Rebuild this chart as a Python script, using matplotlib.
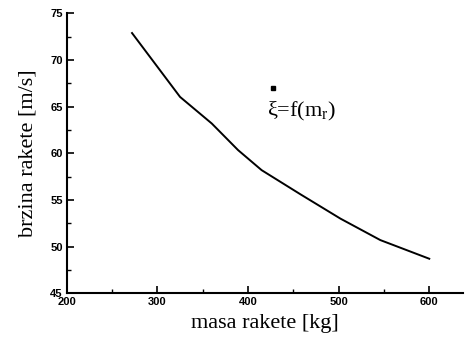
import matplotlib
matplotlib.use("Agg")
import matplotlib.pyplot as plt
from matplotlib.ticker import MultipleLocator

# values
masa = [272, 325, 360, 389, 415, 458, 480, 502, 546, 600]
brzina = [72.9, 66.05, 63.2, 60.35, 58.2, 55.6, 54.3, 53.0, 50.7, 48.7]
marker_point = (427.5, 67.0)
label_point = (421, 64.0)

plt.rcParams["mathtext.fontset"] = "custom"
plt.rcParams["mathtext.rm"] = "Liberation Serif"

fig = plt.figure(figsize=(4.67, 3.45), dpi=100)
ax = fig.add_axes([0.143, 0.15, 0.848, 0.811])

ax.plot(masa, brzina, color="black", lw=1.4)
ax.plot(*marker_point, marker="s", ms=3.5, color="black")
ax.text(*label_point, "ξ=f(m$_\\mathregular{r}$)", family="Liberation Serif",
        fontsize=16, ha="left", va="baseline")

ax.set_xlim(200, 637)
ax.set_ylim(45, 75)
ax.xaxis.set_major_locator(MultipleLocator(100))
ax.xaxis.set_minor_locator(MultipleLocator(50))
ax.yaxis.set_major_locator(MultipleLocator(5))
ax.yaxis.set_minor_locator(MultipleLocator(2.5))

for side in ("top", "right"):
    ax.spines[side].set_visible(False)
for side in ("left", "bottom"):
    ax.spines[side].set_linewidth(1.5)

ax.tick_params(which="major", direction="in", length=5, width=1.2, labelsize=8, pad=3)
ax.tick_params(which="minor", direction="in", length=3, width=1.0)
for lbl in ax.get_xticklabels() + ax.get_yticklabels():
    lbl.set_family("Liberation Sans")
    lbl.set_fontweight("bold")

ax.set_xlabel("masa rakete [kg]", family="Liberation Serif", fontsize=16, labelpad=5)
ax.set_ylabel("brzina rakete [m/s]", family="Liberation Serif", fontsize=16, labelpad=9)

fig.savefig("out.png", dpi=100)
